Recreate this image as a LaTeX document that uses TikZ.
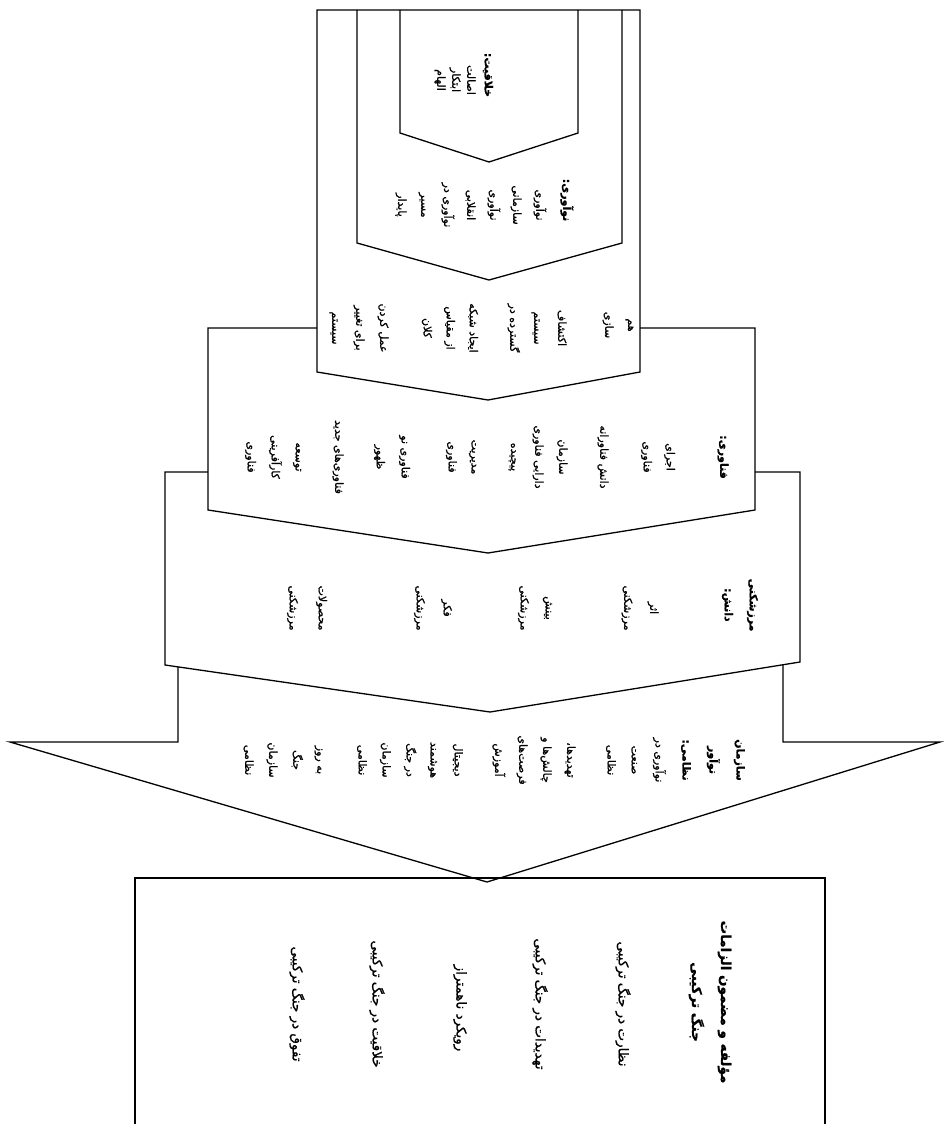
\documentclass[tikz,border=0pt]{standalone}
\usepackage{fontspec}
\usepackage{tikz}
\usetikzlibrary{positioning}
\newfontfamily\farsi[Script=Arabic, RawFeature={embolden=1}]{DejaVu Sans}
\TeXXeTstate=1
\newcommand{\rl}[1]{\beginR #1\endR}
\tikzset{
  fa/.style={rotate=-90, align=center, inner sep=0pt, font=\farsi\fontsize{11}{#1}\selectfont},
  fa/.default=22,
  fab/.style={fa=#1, font=\farsi\bfseries\fontsize{11}{#1}\selectfont},
  fab/.default=22,
  big/.style={fa, font=\farsi\fontsize{13.5}{29}\selectfont},
  bigb/.style={fa, font=\farsi\bfseries\fontsize{13.5}{29}\selectfont},
  frame/.style={line width=1.3pt, line join=miter},
}

\begin{document}
\begin{tikzpicture}[x=1pt, y=-1pt]
    \useasboundingbox (0,0) rectangle (944,1124);
    %levels
    \draw[frame] (400,10) -- (400,133) -- (489,162) -- (578,133) -- (578,10);
    \draw[frame] (357,10) -- (357,243) -- (489,280) -- (622,243) -- (622,10);
    \draw[frame] (640,10) -- (317,10) -- (317,372) -- (488,400) -- (640,372) -- cycle;
    \draw[frame] (317,328) -- (208,328) -- (208,510) -- (488,553) -- (755,510) -- (755,328) -- (640,328);
    \draw[frame] (208,472) -- (165,472) -- (165,665) -- (490,712) -- (800,662) -- (800,472) -- (755,472);
    %arrow
    \draw[frame] (178,667) -- (178,742) -- (10,742) -- (487,882) -- (940,742) -- (783,742) -- (783,664);
    %result box
    \draw[line width=2.4pt] (135,1130) -- (135,878) -- (825,878) -- (825,1130);

    %creativity
    \node[fab] (tA) at (488,75) {\rl{خلاقیت:}};
    \node[fa=15] (lA) at (455,80) {\rl{اصالت}\\\rl{ابتکار}\\\rl{الهام}};
    %innovation
    \node[fab] (tB) at (567,200) {\rl{نوآوری:}};
    \node[fa=23] (lB) at (471,205) {\rl{نوآوری}\\\rl{سازمانی}\\\rl{نوآوری}\\\rl{انقلابی}\\\rl{نوآوری در}\\\rl{مسیر}\\\rl{پایدار}};
    %system
    \node[fa=23] (c1) at (618,325) {\rl{هم}\\\rl{سازی}};
    \node[fa=24] (c2) at (537,328) {\rl{اکتشاف}\\\rl{سیستم}\\\rl{گسترده در}};
    \node[fa=23] (c3) at (450,328) {\rl{ایجاد شبکه}\\\rl{از مقیاس}\\\rl{کلان}};
    \node[fa=24] (c4) at (359,328) {\rl{عمل کردن}\\\rl{برای تغییر}\\\rl{سیستم}};
    %technology
    \node[fab] (tD) at (723,457) {\rl{فناوری:}};
    \node[fa=23] (d1) at (658,457) {\rl{اجرای}\\\rl{فناوری}};
    \node[fa] (d2) at (603,457) {\rl{دانش فناورانه}};
    \node[fa=24] (d3) at (538,457) {\rl{سازمان}\\\rl{دارایی فناوری}\\\rl{پیچیده}};
    \node[fa=23] (d4) at (461,457) {\rl{مدیریت}\\\rl{فناوری}};
    \node[fa=25] (d5) at (392,457) {\rl{فناوری نو}\\\rl{ظهور}};
    \node[fa] (d6) at (338,457) {\rl{فناوری‌های جدید}};
    \node[fa=24] (d7) at (273,457) {\rl{توسعه}\\\rl{کارآفرینی}\\\rl{فناوری}};
    %knowledge
    \node[fab=25] (tE) at (740,605) {\rl{مرزشکنی}\\\rl{دانش:}};
    \node[fa=26] (e1) at (640,608) {\rl{اثر}\\\rl{مرزشکنی}};
    \node[fa=25] (e2) at (535,608) {\rl{بینش}\\\rl{مرزشکنی}};
    \node[fa=27] (e3) at (433,608) {\rl{فکر}\\\rl{مرزشکنی}};
    \node[fa=29] (e4) at (307,608) {\rl{محصولات}\\\rl{مرزشکنی}};
    %organisation
    \node[fab=27] (tF) at (713,760) {\rl{سازمان}\\\rl{نوآور}\\\rl{نظامی:}};
    \node[fa=24] (f1) at (636,760) {\rl{نوآوری در}\\\rl{صنعت}\\\rl{نظامی}};
    \node[fa=24] (f2) at (534,760) {\rl{تهدیدها،}\\\rl{چالش‌ها و}\\\rl{فرصت‌های}\\\rl{آموزش}};
    \node[fa=24] (f3) at (410,760) {\rl{دیجیتال}\\\rl{هوشمند}\\\rl{در جنگ}\\\rl{سازمان}\\\rl{نظامی}};
    \node[fa=24] (f4) at (283,760) {\rl{به روز}\\\rl{جنگ}\\\rl{سازمان}\\\rl{نظامی}};
    %hybrid war
    \node[bigb] (tG) at (710,1002) {\rl{مؤلفه و مضمون الزامات}\\\rl{جنگ ترکیبی}};
    \node[big] (g1) at (623,1004) {\rl{نظارت در جنگ ترکیبی}};
    \node[big] (g2) at (540,1004) {\rl{تهدیدات در جنگ ترکیبی}};
    \node[big] (g3) at (460,1008) {\rl{رویکرد ناهمتراز}};
    \node[big] (g4) at (377,1004) {\rl{خلاقیت در جنگ ترکیبی}};
    \node[big] (g5) at (297,1004) {\rl{تفوق در جنگ ترکیبی}};
\end{tikzpicture}
\end{document}
